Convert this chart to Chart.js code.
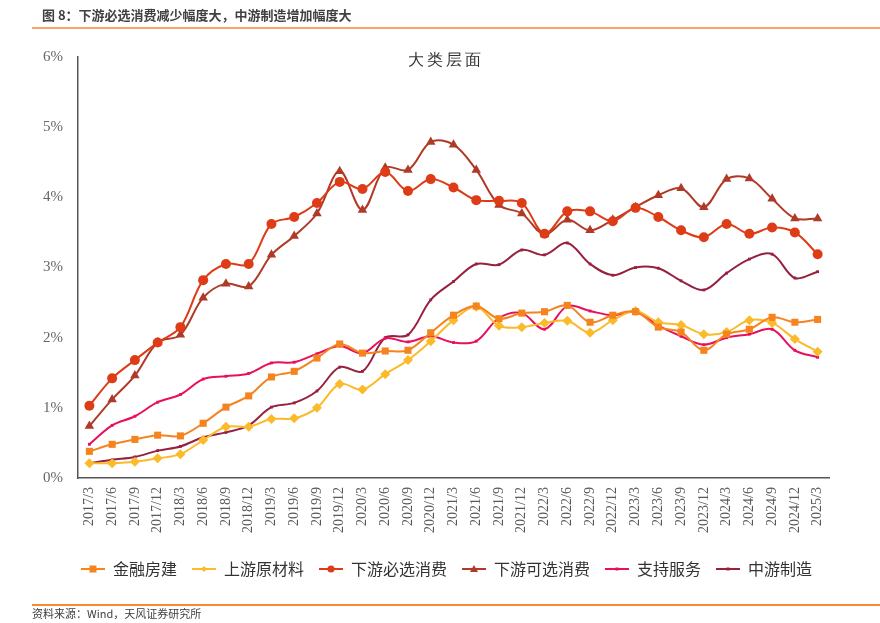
<!DOCTYPE html>
<html>
<head>
<meta charset="utf-8">
<script src="https://cdn.jsdelivr.net/npm/chart.js@4"></script>
<style>
  body { margin: 0; width: 880px; height: 623px; overflow: hidden; background: #fff; position: relative; font-family: "Noto Sans CJK SC", sans-serif; }
  #head { position: absolute; left: 42px; top: 5px; font-size: 13px; font-weight: bold; color: #404040; }
  #line1 { position: absolute; left: 32px; top: 27px; width: 848px; height: 2px; background: #F4A66A; }
  #line2 { position: absolute; left: 32px; top: 604px; width: 848px; height: 2px; background: #F58A2E; }
  #src { position: absolute; left: 32px; top: 606px; font-size: 11px; line-height: 15px; color: #404040; }
  #sub { position: absolute; left: 0; width: 880px; top: 50px; text-align: center; font-family: "Liberation Serif", serif; font-size: 16px; color: #333; letter-spacing: 3px; padding-left: 6px; }
  #wrap { position: absolute; left: 0; top: 0; width: 880px; height: 623px; }
</style>
</head>
<body>
<div id="wrap"><canvas id="myChart" width="880" height="623"></canvas></div>
<div id="head">图 8：下游必选消费减少幅度大，中游制造增加幅度大</div>
<div id="line1"></div>
<div id="sub">大类层面</div>
<div id="line2"></div>
<div id="src">资料来源：Wind，天风证券研究所</div>
<script>
const labels = ['2017/3','2017/6','2017/9','2017/12','2018/3','2018/6','2018/9','2018/12',
  '2019/3','2019/6','2019/9','2019/12','2020/3','2020/6','2020/9','2020/12',
  '2021/3','2021/6','2021/9','2021/12','2022/3','2022/6','2022/9','2022/12',
  '2023/3','2023/6','2023/9','2023/12','2024/3','2024/6','2024/9','2024/12','2025/3'];

const finance = [0.38,0.48,0.55,0.61,0.60,0.78,1.01,1.17,1.44,1.52,1.71,1.91,1.78,1.81,1.82,2.07,
  2.32,2.45,2.27,2.35,2.37,2.46,2.22,2.32,2.37,2.15,2.08,1.82,2.05,2.12,2.29,2.22,2.26];
const upstream = [0.21,0.21,0.23,0.28,0.34,0.54,0.73,0.73,0.84,0.85,1.00,1.34,1.26,1.48,1.68,1.95,
  2.25,2.44,2.17,2.15,2.21,2.24,2.07,2.25,2.38,2.22,2.18,2.05,2.08,2.25,2.21,1.98,1.80];
const staples = [1.03,1.42,1.68,1.93,2.15,2.82,3.05,3.05,3.62,3.72,3.92,4.22,4.12,4.36,4.09,4.26,
  4.14,3.96,3.95,3.92,3.48,3.80,3.80,3.66,3.85,3.72,3.53,3.43,3.62,3.48,3.57,3.50,3.19];
const discretionary = [0.74,1.12,1.46,1.93,2.04,2.57,2.77,2.73,3.18,3.45,3.77,4.37,3.82,4.42,4.39,4.79,
  4.75,4.39,3.89,3.77,3.47,3.68,3.53,3.68,3.86,4.03,4.13,3.86,4.26,4.27,3.98,3.70,3.70];
const services = [0.48,0.75,0.88,1.08,1.19,1.41,1.45,1.49,1.64,1.65,1.77,1.88,1.78,1.99,1.94,2.02,
  1.93,1.95,2.28,2.35,2.12,2.45,2.38,2.32,2.37,2.17,2.02,1.90,2.00,2.05,2.12,1.82,1.72];
const midstream = [0.21,0.26,0.30,0.39,0.45,0.58,0.65,0.75,1.01,1.07,1.24,1.58,1.52,2.00,2.04,2.54,
  2.80,3.05,3.04,3.25,3.18,3.35,3.05,2.89,3.00,2.99,2.81,2.68,2.92,3.12,3.19,2.85,2.94];

const yTicks = [0, 1, 2, 3, 4, 5, 6];

function legendIcon(color, style, r) {
  const c = document.createElement('canvas');
  c.width = 24; c.height = 10;
  const g = c.getContext('2d');
  g.strokeStyle = color; g.fillStyle = color; g.lineWidth = 2;
  g.beginPath(); g.moveTo(0, 5); g.lineTo(24, 5); g.stroke();
  g.beginPath();
  if (style === 'rect') g.rect(12 - r, 5 - r, 2 * r, 2 * r);
  else if (style === 'triangle') { g.moveTo(12, 5 - r - 1); g.lineTo(12 + r + 1, 5 + r); g.lineTo(12 - r - 1, 5 + r); g.closePath(); }
  else if (style === 'rectRot') { g.moveTo(12, 5 - r); g.lineTo(12 + r, 5); g.lineTo(12, 5 + r); g.lineTo(12 - r, 5); g.closePath(); }
  else g.arc(12, 5, r, 0, Math.PI * 2);
  g.fill();
  return c;
}

function series(label, data, color, style, radius, legendR) {
  return {
    label: label,
    data: data,
    borderColor: color,
    backgroundColor: color,
    borderWidth: 2,
    pointStyle: style,
    pointRadius: radius,
    pointHoverRadius: radius,
    pointBorderWidth: 0,
    tension: 0.35,
    legendIcon: legendIcon(color, style, legendR)
  };
}

// legend sits a bit right of the plot centre in the original
const shiftLegend = {
  id: 'shiftLegend',
  afterLayout(chart) {
    chart.legend.left += 32;
    chart.legend.right += 32;
  }
};

const ctx = document.getElementById('myChart').getContext('2d');

const myChart = new Chart(ctx, {
  type: 'line',
  data: {
    labels: labels,
    datasets: [
      series('金融房建', finance, '#F5841F', 'rect', 5, 3.5),
      series('上游原材料', upstream, '#FBBA2A', 'rectRot', 5, 3),
      series('下游必选消费', staples, '#DD3C16', 'circle', 5, 3.5),
      series('下游可选消费', discretionary, '#B03A28', 'triangle', 5.5, 3),
      series('支持服务', services, '#E8105B', 'rect', 2, 1.5),
      series('中游制造', midstream, '#98203F', 'rect', 2, 1.5)
    ]
  },
  plugins: [shiftLegend],
  options: {
    responsive: false,
    animation: false,
    layout: { padding: { left: 0, right: 51, top: 57, bottom: 36 } },
    plugins: {
      tooltip: { enabled: false },
      legend: {
        position: 'bottom',
        labels: {
          usePointStyle: true,
          pointStyleWidth: 24,
          padding: 15,
          color: '#333',
          font: { family: '"Noto Sans CJK SC"', size: 16 },
          generateLabels: (chart) => chart.data.datasets.map((ds, i) => ({
            text: ds.label,
            pointStyle: ds.legendIcon,
            fillStyle: ds.borderColor,
            strokeStyle: ds.borderColor,
            lineWidth: 0,
            fontColor: '#333',
            datasetIndex: i
          }))
        }
      }
    },
    scales: {
      x: {
        offset: true,
        grid: { display: false, drawTicks: true, tickLength: 6, tickColor: '#555', offset: true },
        border: { color: '#555', width: 1.5 },
        ticks: {
          autoSkip: false,
          maxRotation: 90,
          minRotation: 90,
          color: '#595959',
          font: { family: '"Liberation Serif", serif', size: 14 },
          padding: 3
        },
        afterFit: (scale) => { scale.height = 68; }
      },
      y: {
        min: 0,
        max: 6,
        afterBuildTicks: (scale) => { scale.ticks = yTicks.map(v => ({ value: v })); },
        grid: { display: false, drawTicks: true, tickLength: 6, tickColor: '#555' },
        border: { color: '#555', width: 1.5 },
        ticks: {
          color: '#666',
          font: { family: '"Liberation Serif", serif', size: 15 },
          padding: 9,
          callback: (v) => v + '%'
        },
        afterFit: (scale) => { scale.width = 78; }
      }
    }
  }
});
</script>
</body>
</html>
